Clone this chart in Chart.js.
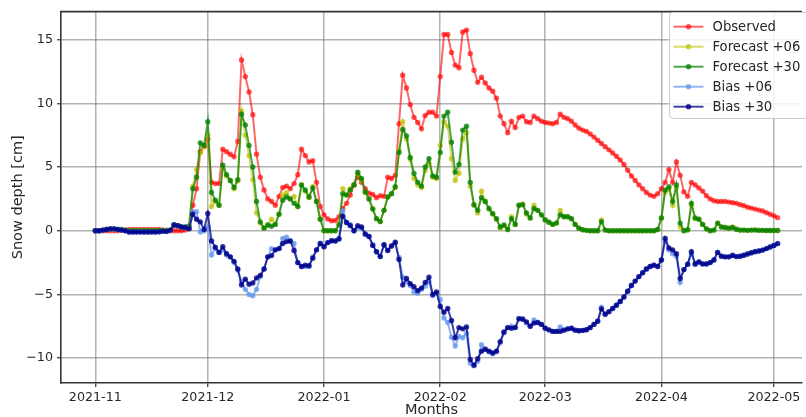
<!DOCTYPE html>
<html>
<head>
<meta charset="utf-8">
<script src="https://cdn.jsdelivr.net/npm/chart.js@4/dist/chart.umd.min.js"></script>
<style>
  html, body { margin: 0; padding: 0; background: #ffffff; }
  #wrap { width: 806px; height: 417px; }
</style>
</head>
<body>
<div id="wrap"><canvas id="snow" width="806" height="417"></canvas></div>
<script>
// Daily snow depth, 2021-11-01 .. 2022-05-02 (day 0 = 2021-11-01)
const observed = [
  // Nov
  0,0,0,0,0,0,0,0.05,0.05,0.1, 0.1,0.1,0.1,0.1,0.1,0.1,0.1,0.1,0.05,0.05, 0,0,0,0,0.05,0.2,2.0,3.3,6.2,6.6,
  // Dec
  7.2,3.8,3.7,3.7,6.4,6.2,6.0,5.8,7.0,13.4, 12.1,10.9,9.1,6.0,4.2,3.2,2.5,2.3,2.0,2.7, 3.4,3.5,3.3,3.7,4.4,6.4,5.9,5.4,5.5,3.8, 1.9,
  // Jan
  1.25,0.93,0.78,0.8,1.1,1.75,2.15,2.8,3.6,4.2, 3.8,3.3,2.95,2.85,2.6,2.75,2.7,4.2,4.1,4.35, 8.4,12.2,11.2,9.9,8.9,8.5,8.0,9.05,9.3,9.3, 9.0,
  // Feb
  12.1,15.4,15.4,14.0,13.0,12.8,15.6,15.75,13.9,12.6, 11.65,12.05,11.6,11.2,10.95,10.4,9.0,8.4,7.7,8.6, 8.1,8.9,9.0,8.55,8.5,9.0,8.8,8.6,
  // Mar
  8.5,8.45,8.4,8.5,9.15,8.9,8.8,8.6,8.3,8.05, 7.9,7.8,7.6,7.35,7.1,6.85,6.6,6.35,6.1,5.85, 5.55,5.2,4.75,4.3,3.95,3.6,3.3,3.0,2.8,2.7, 2.9,
  // Apr
  3.3,3.8,4.8,3.8,5.4,4.35,3.05,2.7,3.8,3.6, 3.35,3.1,2.75,2.5,2.35,2.3,2.3,2.3,2.25,2.2, 2.15,2.05,1.97,1.85,1.78,1.7,1.62,1.55,1.42,1.3,
  // May
  1.17,1.03
];

const forecast06 = [
  0,0,0.05,0.1,0.15,0.12,0.1,0.1,0.05,0, 0,0,0.02,0,0,0,0,0.02,0.02,0, 0.05,0.5,0.4,0.3,0.3,0.4,3.5,4.8,6.1,6.6,
  7.5,1.9,2.3,2.0,4.9,4.3,3.95,3.3,3.9,9.4, 7.5,5.9,4.0,1.4,0.6,0.2,0.45,0.9,0.5,1.3, 2.8,3.0,2.5,2.7,1.9,3.6,3.1,2.6,3.45,2.3, 0.9,
  0,0,0,0,0.5,3.3,2.8,3.3,3.6,4.45, 4.0,3.0,2.5,1.75,0.95,0.72,1.6,2.65,2.9,3.4, 6.3,8.55,7.2,5.6,4.1,3.6,3.4,4.7,5.3,4.2, 4.1,
  6.7,8.55,8.2,5.65,3.95,4.5,7.2,7.7,3.5,2.0, 1.4,3.1,2.3,1.7,1.3,0.9,0.2,0.4,0.1,1.1, 0.5,2.0,2.1,1.3,1.0,2.0,1.6,1.25,
  0.85,0.67,0.5,0.6,1.6,1.1,1.1,0.95,0.5,0.2, 0.08,0.03,0,0,0,0.85,0.05,0,0,0, 0,0,0,0,0,0,0,0,0,0, 0.1,
  1.0,3.0,3.3,2.0,3.4,0.3,0,0.05,2.0,0.95, 0.9,0.5,0.15,0,0.05,0.6,0.3,0.25,0.2,0.3, 0.12,0.05,0.05,0.03,0.05,0.08,0.03,0.03,0.02,0.02,
  0.02,0.02
];

const forecast30 = [
  0,0,0.05,0.1,0.15,0.15,0.1,0.1,0.05,0, 0,0,0,0,0,0,0,0.02,0.02,0, 0.05,0.45,0.4,0.3,0.3,0.35,3.3,4.2,6.9,6.7,
  8.55,3.0,2.4,2.0,5.15,4.4,3.95,3.4,4.0,9.15, 8.3,6.7,5.0,2.3,0.7,0.2,0.45,0.35,0.5,1.3, 2.4,2.65,2.5,2.15,1.9,3.6,3.2,2.65,3.35,2.3, 0.9,
  0,0,0,0,0.45,2.9,2.8,3.2,3.6,4.6, 4.1,3.05,2.5,1.7,0.95,0.72,1.6,2.65,2.9,3.45, 6.15,7.95,7.45,5.75,4.5,3.8,3.5,5.0,5.65,4.3, 4.2,
  6.15,9.0,9.3,6.95,4.6,5.2,7.9,8.2,3.8,2.05, 1.6,2.6,2.3,1.75,1.35,0.95,0.3,0.45,0.1,0.95, 0.5,2.0,2.05,1.4,1.0,1.75,1.6,1.25,
  0.85,0.67,0.5,0.6,1.25,1.1,1.1,0.95,0.5,0.2, 0.08,0.03,0,0,0,0.72,0.05,0,0,0, 0,0,0,0,0,0,0,0,0,0, 0.1,
  1.0,3.2,3.45,2.3,3.6,0.6,0,0.08,2.15,1.0, 0.9,0.5,0.15,0,0.05,0.6,0.3,0.25,0.2,0.26, 0.12,0.05,0.05,0.03,0.05,0.05,0.03,0.03,0.02,0.02,
  0.02,0.02
];

const bias06 = [
  0,0,0.05,0.1,0.15,0.12,0.1,0.05,0,-0.1, -0.1,-0.1,-0.08,-0.1,-0.1,-0.1,-0.1,-0.08,-0.03,-0.05, 0.05,0.5,0.4,0.3,0.25,0.2,1.5,1.5,-0.1,0.0,
  0.3,-1.9,-1.4,-1.7,-1.5,-1.9,-2.05,-2.5,-3.1,-4.0, -4.6,-5.0,-5.1,-4.6,-3.6,-3.0,-2.05,-1.4,-1.5,-1.4, -0.6,-0.5,-0.8,-1.0,-2.5,-2.8,-2.8,-2.8,-2.05,-1.5, -1.0,
  -1.25,-0.93,-0.78,-0.8,-0.6,1.55,0.65,0.5,0,0.25, 0.2,-0.3,-0.45,-1.1,-1.65,-2.03,-1.1,-1.55,-1.2,-0.95, -2.1,-3.65,-4.0,-4.3,-4.8,-4.9,-4.6,-4.35,-4.0,-5.1, -4.9,
  -5.4,-6.85,-7.2,-8.35,-9.05,-8.3,-8.4,-8.05,-10.4,-10.6, -10.25,-8.95,-9.3,-9.5,-9.65,-9.5,-8.8,-8.0,-7.6,-7.5, -7.6,-6.9,-6.9,-7.25,-7.5,-7.0,-7.2,-7.35,
  -7.65,-7.78,-7.9,-7.9,-7.55,-7.8,-7.7,-7.65,-7.8,-7.85, -7.82,-7.77,-7.6,-7.35,-7.1,-6.0,-6.55,-6.35,-6.1,-5.85, -5.55,-5.2,-4.75,-4.3,-3.95,-3.6,-3.3,-3.0,-2.8,-2.7, -2.8,
  -2.3,-0.8,-1.5,-1.8,-2.0,-4.05,-3.05,-2.65,-1.8,-2.65, -2.45,-2.6,-2.6,-2.5,-2.3,-1.7,-2.0,-2.05,-2.05,-1.9, -2.03,-2.0,-1.92,-1.82,-1.73,-1.62,-1.59,-1.52,-1.4,-1.28,
  -1.15,-1.01
];

const bias30 = [
  0,0,0.05,0.1,0.15,0.15,0.1,0.05,0,-0.1, -0.1,-0.1,-0.1,-0.1,-0.1,-0.1,-0.1,-0.08,-0.03,-0.05, 0.05,0.45,0.4,0.3,0.25,0.15,1.3,0.9,0.7,0.1,
  1.35,-0.8,-1.3,-1.7,-1.25,-1.8,-2.05,-2.4,-3.0,-4.25, -3.8,-4.2,-4.1,-3.7,-3.5,-3.0,-2.05,-1.95,-1.5,-1.4, -1.0,-0.85,-0.8,-1.55,-2.5,-2.8,-2.7,-2.75,-2.15,-1.5, -1.0,
  -1.25,-0.93,-0.78,-0.8,-0.65,1.15,0.65,0.4,0,0.4, 0.3,-0.25,-0.45,-1.15,-1.65,-2.03,-1.1,-1.55,-1.2,-0.9, -2.25,-4.25,-3.75,-4.15,-4.4,-4.7,-4.5,-4.05,-3.65,-5.0, -4.8,
  -5.95,-6.4,-6.1,-7.05,-8.4,-7.6,-7.7,-7.55,-10.1,-10.55, -10.05,-9.45,-9.3,-9.45,-9.6,-9.45,-8.7,-7.95,-7.6,-7.65, -7.6,-6.9,-6.95,-7.15,-7.5,-7.25,-7.2,-7.35,
  -7.65,-7.78,-7.9,-7.9,-7.9,-7.8,-7.7,-7.65,-7.8,-7.85, -7.82,-7.77,-7.6,-7.35,-7.1,-6.13,-6.55,-6.35,-6.1,-5.85, -5.55,-5.2,-4.75,-4.3,-3.95,-3.6,-3.3,-3.0,-2.8,-2.7, -2.8,
  -2.3,-0.6,-1.35,-1.5,-1.8,-3.75,-3.05,-2.62,-1.65,-2.6, -2.45,-2.6,-2.6,-2.5,-2.3,-1.7,-2.0,-2.05,-2.05,-1.94, -2.03,-2.0,-1.92,-1.82,-1.73,-1.65,-1.59,-1.52,-1.4,-1.28,
  -1.15,-1.01
];

// Month boundaries as day offsets from 2021-11-01, and their labels
const monthTicks  = [0, 30, 61, 92, 120, 151, 181];
const monthLabels = ['2021-11', '2021-12', '2022-01', '2022-02', '2022-03', '2022-04', '2022-05'];
const depthTicks  = [-10, -5, 0, 5, 10, 15];

const seriesNames = ['Observed', 'Forecast +06', 'Forecast +30', 'Bias +06', 'Bias +30'];
const days = observed.map((_, i) => i);

const FONT = "'DejaVu Sans', 'Liberation Sans', sans-serif";
const TEXT = '#262626';
const GRID = 'rgba(115,115,115,0.55)';
const SPINE = '#333333';

const styles = [
  { line: 'rgba(255,0,0,0.6)',      dot: 'rgba(255,0,0,0.65)' },
  { line: 'rgba(191,191,0,0.6)',    dot: 'rgba(191,191,0,0.7)' },
  { line: 'rgba(0,128,0,0.7)',      dot: 'rgba(0,128,0,0.75)' },
  { line: 'rgba(100,149,237,0.7)',  dot: 'rgba(100,149,237,0.75)' },
  { line: 'rgba(0,0,139,0.75)',     dot: 'rgba(0,0,139,0.8)' }
];
const seriesValues = [observed, forecast06, forecast30, bias06, bias30];

const datasets = seriesValues.map((vals, k) => ({
  label: seriesNames[k],
  data: vals.map((v, i) => ({ x: days[i], y: v })),
  borderColor: styles[k].line,
  backgroundColor: styles[k].dot,
  pointBackgroundColor: styles[k].dot,
  pointBorderWidth: 0,
  pointRadius: 2.7,
  borderWidth: 2,
  tension: 0,
  fill: false,
  order: seriesNames.length - 1 - k   // later series drawn on top
}));

// top spine of the axes box
const framePlugin = {
  id: 'frame',
  afterDatasetsDraw(chart) {
    const { ctx, chartArea } = chart;
    ctx.save();
    ctx.strokeStyle = SPINE;
    ctx.lineWidth = 1.6;
    ctx.beginPath();
    ctx.moveTo(chartArea.left - 0.8, chartArea.top);
    ctx.lineTo(chartArea.right, chartArea.top);
    ctx.stroke();
    ctx.restore();
  }
};

// legend box in the upper right corner of the plot
const insideLegend = {
  id: 'insideLegend',
  afterDraw(chart) {
    const { ctx } = chart;
    const x0 = 669.5, y0 = 12.5, w = 150, h = 106, r = 4;
    ctx.save();
    ctx.beginPath();
    ctx.moveTo(x0 + r, y0);
    ctx.lineTo(x0 + w - r, y0);
    ctx.arcTo(x0 + w, y0, x0 + w, y0 + r, r);
    ctx.lineTo(x0 + w, y0 + h - r);
    ctx.arcTo(x0 + w, y0 + h, x0 + w - r, y0 + h, r);
    ctx.lineTo(x0 + r, y0 + h);
    ctx.arcTo(x0, y0 + h, x0, y0 + h - r, r);
    ctx.lineTo(x0, y0 + r);
    ctx.arcTo(x0, y0, x0 + r, y0, r);
    ctx.closePath();
    ctx.fillStyle = 'rgba(255,255,255,0.85)';
    ctx.fill();
    ctx.strokeStyle = '#cccccc';
    ctx.lineWidth = 1;
    ctx.stroke();

    ctx.font = '13.2px ' + FONT;
    ctx.textBaseline = 'middle';
    ctx.textAlign = 'left';
    chart.data.datasets.forEach((ds, i) => {
      const y = 26.7 + i * 20;
      ctx.strokeStyle = ds.borderColor;
      ctx.lineWidth = 2;
      ctx.beginPath();
      ctx.moveTo(673.5, y);
      ctx.lineTo(703.5, y);
      ctx.stroke();
      ctx.fillStyle = ds.pointBackgroundColor;
      ctx.beginPath();
      ctx.arc(688.5, y, 2.7, 0, Math.PI * 2);
      ctx.fill();
      ctx.fillStyle = TEXT;
      ctx.fillText(ds.label, 712.5, y + 0.5);
    });
    ctx.restore();
  }
};

const minusSign = v => (v < 0 ? '\u2212' + Math.abs(v) : String(v));

new Chart(document.getElementById('snow'), {
  type: 'line',
  data: { datasets },
  options: {
    responsive: false,
    animation: false,
    events: [],
    layout: { padding: { top: 8.5, right: 0, bottom: 0, left: 0 } },
    plugins: { legend: { display: false }, tooltip: { enabled: false } },
    scales: {
      x: {
        type: 'linear',
        min: -9.16,
        max: 188.5,
        afterBuildTicks: s => { s.ticks = monthTicks.map(v => ({ value: v })); },
        afterFit: s => { s.height = 34; },
        ticks: {
          autoSkip: false,
          maxRotation: 0,
          padding: 3,
          color: TEXT,
          font: { family: FONT, size: 12.7 },
          callback: v => monthLabels[monthTicks.indexOf(v)]
        },
        grid: { color: GRID, lineWidth: 1.5, tickLength: 4, tickColor: SPINE, tickWidth: 1.2 },
        border: { display: true, color: SPINE, width: 1.6 },
        title: {
          display: true,
          text: 'Months',
          color: TEXT,
          font: { family: FONT, size: 14.5, lineHeight: 1 },
          padding: { top: 0, bottom: 0 }
        }
      },
      y: {
        min: -11.95,
        max: 17.2,
        afterBuildTicks: s => { s.ticks = depthTicks.map(v => ({ value: v })); },
        afterFit: s => { s.width = 61; },
        ticks: {
          padding: 4,
          color: TEXT,
          font: { family: FONT, size: 12.7 },
          callback: v => minusSign(v)
        },
        grid: { color: GRID, lineWidth: 1.5, tickLength: 4, tickColor: SPINE, tickWidth: 1.2 },
        border: { display: true, color: SPINE, width: 1.6 },
        title: {
          display: true,
          text: 'Snow depth [cm]',
          color: TEXT,
          font: { family: FONT, size: 14.5, lineHeight: 1 },
          padding: { top: 11, bottom: 0 }
        }
      }
    }
  },
  plugins: [framePlugin, insideLegend]
});
</script>
</body>
</html>
